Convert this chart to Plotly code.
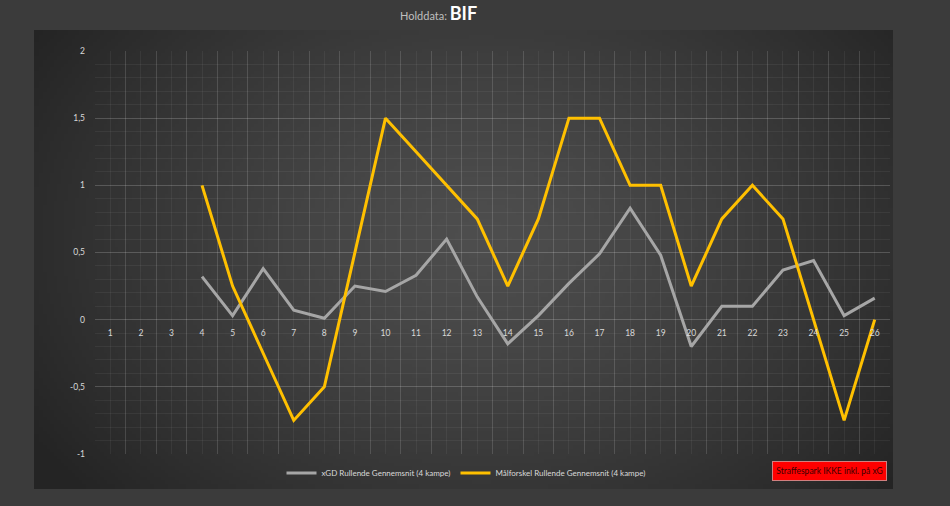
import base64
import struct
import zlib

import numpy as np
import plotly.graph_objects as go

# ---------------- data ----------------
rounds = list(range(1, 27))
round_labels = [str(r) for r in rounds]
xgd_rolling = [None, None, None, 0.32, 0.03, 0.38, 0.07, 0.01, 0.25, 0.21, 0.33, 0.60, 0.17,
               -0.18, 0.03, 0.27, 0.49, 0.83, 0.48, -0.20, 0.10, 0.10, 0.37, 0.44, 0.03, 0.16]
goal_diff_rolling = [None, None, None, 1.0, 0.25, -0.25, -0.75, -0.5, 0.5, 1.5, 1.25, 1.0, 0.75,
                     0.25, 0.75, 1.5, 1.5, 1.0, 1.0, 0.25, 0.75, 1.0, 0.75, 0.0, -0.75, 0.0]
y_tickvals = [-1, -0.5, 0, 0.5, 1, 1.5, 2]
y_ticktext = ["-1", "-0,5", "0", "0,5", "1", "1,5", "2"]
series_names = ["xGD Rullende Gennemsnit (4 kampe)", "Målforskel Rullende Gennemsnit (4 kampe)"]
team = "BIF"
note_text = "Straffespark IKKE inkl. på xG"

# ---------------- layout geometry (pixels) ----------------
W, H = 950, 506
PL, PR, PT, PB = 95, 890, 51, 454  # plot area edges
pw, ph = PR - PL, PB - PT


def px_x(x):
    return (x - PL) / pw


def px_y(y):
    return (PB - y) / ph


# ---------------- radial gradient background (PNG data URI) ----------------
def gradient_png(w=240, h=130):
    yy, xx = np.mgrid[0:h, 0:w]
    cx, cy = w * 0.52, h * 0.45
    r = np.sqrt(((xx - cx) / (w * 0.62)) ** 2 + ((yy - cy) / (h * 0.85)) ** 2)
    r = np.clip(r, 0, 1)
    c_center, c_edge = 78.0, 36.0
    v = c_edge + (c_center - c_edge) * (1 - r ** 1.3)
    img = np.clip(v, 0, 255).astype(np.uint8)
    rgb = np.stack([img, img, img], axis=-1)
    raw = b"".join(b"\x00" + rgb[i].tobytes() for i in range(h))

    def chunk(tag, data):
        c = struct.pack(">I", len(data)) + tag + data
        return c + struct.pack(">I", zlib.crc32(tag + data) & 0xFFFFFFFF)

    png = b"\x89PNG\r\n\x1a\n"
    png += chunk(b"IHDR", struct.pack(">IIBBBBB", w, h, 8, 2, 0, 0, 0))
    png += chunk(b"IDAT", zlib.compress(raw, 9))
    png += chunk(b"IEND", b"")
    return "data:image/png;base64," + base64.b64encode(png).decode()


FONT = "Lato, Open Sans, sans-serif"
major_grid = "rgba(255,255,255,0.14)"
minor_grid = "rgba(255,255,255,0.055)"

fig = go.Figure()
fig.add_trace(go.Scatter(x=rounds, y=xgd_rolling, mode="lines", name=series_names[0],
                         line=dict(color="#A6A6A6", width=3), connectgaps=False))
fig.add_trace(go.Scatter(x=rounds, y=goal_diff_rolling, mode="lines", name=series_names[1],
                         line=dict(color="#FFC000", width=3), connectgaps=False))

boundaries = [r - 0.5 for r in rounds] + [rounds[-1] + 0.5]

fig.update_layout(
    width=W, height=H,
    margin=dict(l=PL, r=W - PR, t=PT, b=H - PB),
    paper_bgcolor="#3b3b3b",
    plot_bgcolor="rgba(0,0,0,0)",
    font=dict(family=FONT, color="#d9d9d9", size=8.5),
    showlegend=True,
    legend=dict(orientation="h", x=px_x(466), xanchor="center", y=px_y(473), yanchor="middle",
                bgcolor="rgba(0,0,0,0)", font=dict(size=8, color="#d9d9d9"),
                itemwidth=30, tracegroupgap=0),
    xaxis=dict(range=[0.5, 26.5], tickvals=rounds, ticktext=round_labels,
               showgrid=True, gridcolor=minor_grid, gridwidth=1,
               minor=dict(tickvals=boundaries, showgrid=True, gridcolor=major_grid, gridwidth=1),
               zeroline=False, showline=False, ticks="", ticklabelstandoff=7,
               anchor="free", position=1 / 3, fixedrange=True,
               tickfont=dict(size=8.5, color="#d9d9d9")),
    yaxis=dict(range=[-1, 2], domain=[0, 1], tickvals=y_tickvals, ticktext=y_ticktext,
               showgrid=True, gridcolor=major_grid, gridwidth=1,
               minor=dict(dtick=0.1, tick0=0, showgrid=True, gridcolor=minor_grid, gridwidth=1),
               zeroline=True, zerolinecolor=major_grid, zerolinewidth=1,
               showline=False, ticks="", ticklabelstandoff=9,
               tickfont=dict(size=8.5, color="#d9d9d9")),
    images=[dict(source=gradient_png(), xref="paper", yref="paper",
                 x=px_x(34), y=px_y(30), sizex=(893 - 34) / pw, sizey=(489 - 30) / ph,
                 xanchor="left", yanchor="top", sizing="stretch", layer="below")],
    annotations=[
        dict(text="<span style='font-size:11px;color:#bfbfbf'>Holddata: </span>"
                  f"<span style='font-size:18px;color:#ffffff'><b>{team}</b></span>",
             xref="paper", yref="paper", x=px_x(438), y=px_y(13), xanchor="center", yanchor="middle",
             showarrow=False, font=dict(family=FONT)),
        dict(text=note_text, xref="paper", yref="paper", x=px_x(829.5), y=px_y(471),
             xanchor="center", yanchor="middle", showarrow=False,
             bgcolor="#ff0000", bordercolor="#d08080", borderwidth=1,
             width=111, height=16, font=dict(family=FONT, size=8.5, color="#3a0000")),
    ],
)

fig.write_html("out.html")
